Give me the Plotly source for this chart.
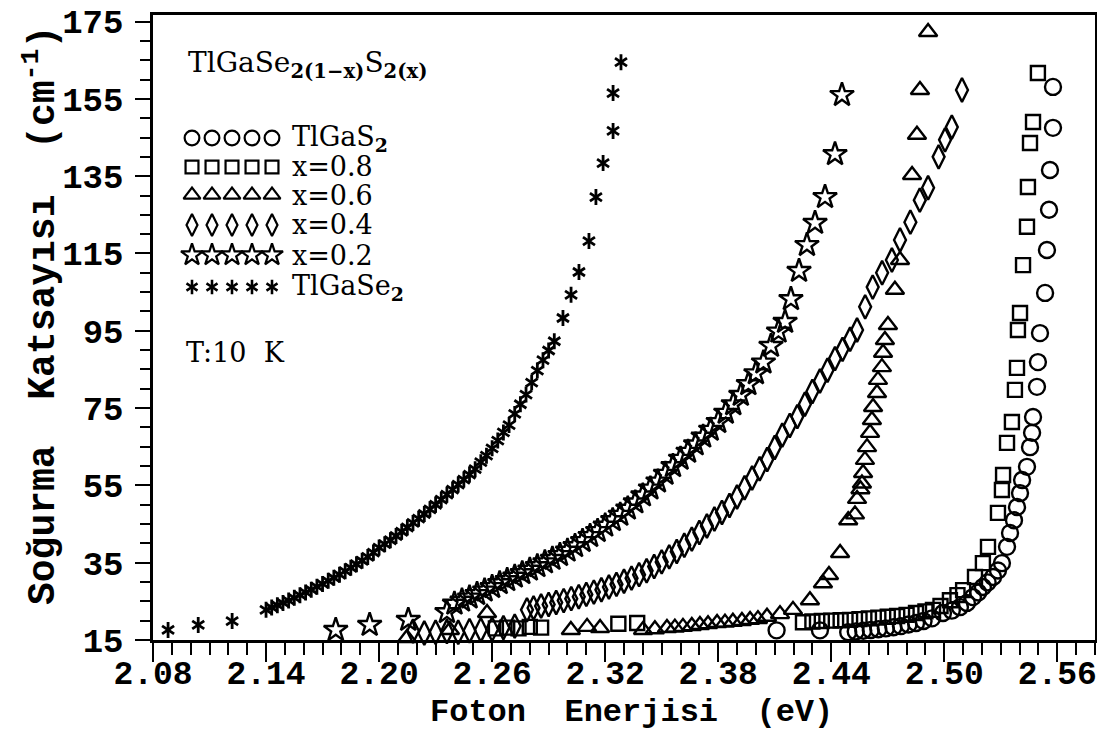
import plotly.graph_objects as go

# ---------------- data ----------------
# TlGaSe2  (asterisks)
se_x = [2.088, 2.104, 2.122,
        2.140, 2.143, 2.146, 2.149, 2.152, 2.155, 2.158, 2.161, 2.164, 2.167, 2.170,
        2.173, 2.176, 2.179, 2.182, 2.185, 2.188, 2.191, 2.194, 2.197, 2.200, 2.203,
        2.206, 2.209, 2.212, 2.215, 2.218, 2.221, 2.224, 2.227, 2.230, 2.233, 2.236,
        2.239, 2.242, 2.245, 2.248, 2.251, 2.254, 2.257, 2.260, 2.263, 2.266, 2.269,
        2.272, 2.275, 2.278, 2.281, 2.284, 2.287, 2.290, 2.293, 2.2976, 2.3019,
        2.3061, 2.3114, 2.3151, 2.3189, 2.3242, 2.3242, 2.3284]
se_y = [17.6, 18.9, 19.9,
        22.8, 23.4, 24.0, 24.6, 25.2, 25.9, 26.6, 27.3, 28.0, 28.8, 29.5,
        30.3, 31.1, 31.9, 32.8, 33.7, 34.6, 35.5, 36.5, 37.6, 38.9, 39.8,
        40.8, 41.9, 43.0, 44.1, 45.3, 46.4, 47.6, 48.8, 50.0, 51.3, 52.6,
        53.9, 55.2, 56.5, 57.8, 59.2, 61.0, 62.7, 64.6, 66.6, 68.7, 70.6,
        73.5, 76.0, 78.5, 81.6, 84.7, 87.4, 89.9, 92.3, 98.3, 104.3,
        110.2, 118.2, 129.6, 138.4, 146.7, 156.5, 164.5]

# x = 0.2  (stars)
x02_x = [2.177, 2.195, 2.2155,
         2.236, 2.240, 2.244, 2.248, 2.252, 2.256, 2.260, 2.264, 2.268, 2.272, 2.276,
         2.280, 2.284, 2.288, 2.292, 2.296, 2.300, 2.304, 2.308, 2.312, 2.316, 2.320,
         2.324, 2.328, 2.332, 2.336, 2.340, 2.344, 2.348, 2.352, 2.356, 2.360, 2.364,
         2.368, 2.372, 2.376, 2.380, 2.384, 2.388, 2.392, 2.396, 2.400, 2.404, 2.408,
         2.412, 2.4155, 2.4186, 2.4229, 2.4271, 2.4314, 2.4367, 2.442, 2.4457]
x02_y = [17.6, 18.9, 20.2,
         22.2, 24.4, 25.2, 26.0, 26.9, 27.8, 28.7, 29.7, 30.5, 31.4, 32.3,
         33.2, 34.1, 35.1, 36.0, 37.0, 38.1, 39.3, 40.6, 41.9, 43.2, 44.6,
         46.0, 47.4, 49.0, 50.6, 52.4, 54.2, 56.0, 58.0, 60.0, 61.9, 63.7,
         65.6, 67.6, 69.4, 71.4, 73.8, 76.0, 78.4, 81.2, 84.0, 86.8, 91.1,
         94.8, 97.3, 103.2, 110.5, 117.2, 122.9, 129.6, 140.7, 156.0]

# x = 0.4  (diamonds)
x04_x = [2.218, 2.224, 2.230, 2.236, 2.242, 2.248, 2.254, 2.260, 2.266, 2.272,
         2.2785, 2.282, 2.286, 2.290, 2.294, 2.298, 2.302, 2.306, 2.310, 2.314,
         2.318, 2.322, 2.326, 2.330, 2.334, 2.338, 2.342, 2.346, 2.350, 2.354,
         2.358, 2.362, 2.366, 2.370, 2.374, 2.378, 2.382, 2.386, 2.390, 2.394,
         2.398, 2.402, 2.406, 2.410, 2.414, 2.418, 2.422, 2.426, 2.430, 2.434,
         2.438, 2.442, 2.446, 2.450, 2.4537, 2.458, 2.462, 2.467, 2.4722, 2.4765,
         2.482, 2.487, 2.4914, 2.497, 2.5004, 2.504, 2.5094]
x04_y = [17.3, 16.8, 17.0, 17.2, 17.0, 17.4, 17.6, 17.8, 18.2, 18.6,
         22.8, 23.3, 23.8, 24.2, 24.7, 25.2, 25.7, 26.2, 26.8, 27.4,
         28.0, 28.7, 29.4, 30.2, 31.0, 31.9, 32.9, 34.0, 35.2, 36.5,
         37.9, 39.5, 41.1, 42.8, 44.5, 46.3, 48.0, 49.8, 52.0, 54.4,
         56.9, 59.3, 61.7, 64.8, 68.0, 70.5, 72.8, 76.0, 79.3, 82.0,
         84.8, 87.8, 90.2, 92.8, 95.2, 101.2, 106.3, 110.0, 113.3, 118.5,
         123.1, 128.8, 132.0, 140.0, 144.4, 147.7, 157.3]

# x = 0.6  (triangles)
x06_x = [2.2148, 2.2376, 2.2573, 2.3018, 2.3104, 2.3173,
         2.3401, 2.3464, 2.3528, 2.357, 2.3613, 2.366, 2.3703, 2.3746, 2.3794,
         2.3836, 2.3878, 2.3926, 2.3969, 2.4011, 2.4059, 2.4128, 2.4197, 2.4287,
         2.4356, 2.4388, 2.4447, 2.4490, 2.4526, 2.4537, 2.4555, 2.4563, 2.4569,
         2.4579, 2.4590, 2.4606, 2.4616, 2.4622, 2.4643, 2.4648, 2.4669, 2.4675,
         2.4685, 2.4701, 2.4738, 2.4765, 2.4829, 2.4855, 2.4871, 2.4914]
x06_y = [15.5, 17.6, 22.0, 17.6, 18.4, 18.1,
         17.6, 17.8, 18.1, 18.2, 18.4, 18.6, 18.9, 19.1, 19.4,
         19.5, 19.7, 19.9, 20.2, 20.4, 21.0, 21.7, 22.8, 25.3,
         29.7, 31.8, 37.5, 46.0, 47.5, 51.5, 54.0, 55.5, 58.2,
         61.6, 64.9, 68.6, 71.9, 75.3, 78.9, 82.3, 85.6, 89.3,
         92.6, 96.5, 105.6, 113.3, 135.3, 145.7, 157.3, 172.3]

# x = 0.8  (squares)
x08_x = [2.262, 2.268, 2.274, 2.280, 2.286, 2.327, 2.337,
         2.425, 2.430, 2.435, 2.440, 2.445, 2.450, 2.455, 2.460, 2.465, 2.470,
         2.475, 2.480, 2.485, 2.490, 2.494, 2.498, 2.503, 2.507, 2.510, 2.5163,
         2.5205, 2.5232, 2.5285, 2.5306, 2.5312, 2.5333, 2.5359, 2.5375, 2.5386,
         2.5391, 2.5402, 2.5418, 2.5439, 2.5444, 2.5455, 2.5471, 2.5497]
x08_y = [18.0, 18.2, 18.0, 18.4, 18.2, 19.2, 19.4,
         19.6, 19.8, 19.9, 20.0, 20.1, 20.2, 20.4, 20.6, 20.8, 21.0,
         21.2, 21.5, 22.0, 22.4, 22.8, 23.8, 25.3, 26.6, 27.9, 31.3,
         34.9, 39.1, 47.9, 53.8, 57.7, 66.0, 71.4, 79.7, 85.4,
         95.2, 99.6, 112.0, 121.9, 132.2, 143.6, 149.0, 161.7]

# TlGaS2  (circles)
s_x = [2.411, 2.434, 2.449, 2.453, 2.457, 2.461, 2.465, 2.469, 2.473, 2.477,
       2.481, 2.485, 2.489, 2.4935, 2.4993, 2.504, 2.5083, 2.512, 2.5152, 2.518,
       2.5205, 2.523, 2.5259, 2.5285, 2.5306, 2.5333, 2.5349, 2.537, 2.5386,
       2.5402, 2.5413, 2.5439, 2.5455, 2.5466, 2.5471, 2.5492, 2.5497, 2.5508,
       2.5535, 2.5545, 2.5556, 2.5561, 2.5577, 2.5577]
s_y = [17.5, 17.5, 17.0, 17.2, 17.4, 17.6, 17.8, 18.0, 18.3, 18.6,
       19.0, 19.4, 19.9, 20.6, 22.0, 22.6, 23.5, 24.6, 26.1, 27.3,
       28.7, 29.9, 31.3, 33.0, 34.9, 39.1, 42.7, 46.0, 49.4,
       53.0, 56.4, 59.8, 64.9, 68.6, 72.7, 80.5, 86.9, 94.4,
       104.8, 115.9, 126.3, 136.6, 147.5, 158.1]

legend_labels = ["TlGaS<sub><b>2</b></sub>", "x=0.8", "x=0.6", "x=0.4", "x=0.2",
                 "TlGaSe<sub><b>2</b></sub>"]
title_text = "TlGaSe<sub><b>2(1\u2212x)</b></sub>S<sub><b>2(x)</b></sub>"
temp_text = "T:10  K"
x_title = "Foton  Enerjisi  (eV)"
y_title = "So\u011furma  Katsay\u0131s\u0131  (cm<sup>-1</sup>)"

# ---------------- styling ----------------
BLACK = "black"
MONO = "Liberation Mono"
SERIF = "DejaVu Serif"

series = [
    (s_x, s_y, ["circle-open"], 16, 2.4),
    (x08_x, x08_y, ["square-open"], 14, 2.4),
    (x06_x, x06_y, ["triangle-up-open"], 16, 2.4),
    (x04_x, x04_y, ["diamond-tall-open"], 17, 2.4),
    (x02_x, x02_y, ["star-open"], 18, 2.4),
    (se_x, se_y, ["y-up-open", "y-down-open"], 10, 2.8),
]

fig = go.Figure()
for xs, ys, syms, size, lw in series:
    for sym in syms:
        fig.add_trace(go.Scatter(
            x=xs, y=ys, mode="markers", showlegend=False, hoverinfo="skip",
            marker=dict(symbol=sym, size=size, color=BLACK,
                        line=dict(color=BLACK, width=lw)),
            cliponaxis=False))

# plot-area geometry in pixels (for placing legend items)
L, R, T, B = 153, 1095, 15, 640
W, H = R - L, B - T


def px(xp):
    return (xp - L) / W


def py(yp):
    return (B - yp) / H


row_y = [138, 167, 195, 225, 255, 287]
mk_x = [192, 212, 232, 252, 272]
for (xs, ys, syms, size, lw), ry in zip(series, row_y):
    for sym in syms:
        fig.add_trace(go.Scatter(
            x=[px(v) for v in mk_x], y=[py(ry)] * len(mk_x),
            xaxis="x2", yaxis="y2", mode="markers", showlegend=False,
            hoverinfo="skip",
            marker=dict(symbol=sym, size=size * 0.92, color=BLACK,
                        line=dict(color=BLACK, width=lw * 0.92))))

annotations = []
for lab, ry in zip(legend_labels, row_y):
    annotations.append(dict(x=px(290), y=py(ry), xref="paper", yref="paper",
                            text=lab, showarrow=False, xanchor="left",
                            yanchor="middle",
                            font=dict(family=SERIF, size=27, color=BLACK)))
annotations.append(dict(x=px(186), y=py(65), xref="paper", yref="paper",
                        text=title_text, showarrow=False, xanchor="left",
                        yanchor="middle",
                        font=dict(family=SERIF, size=28, color=BLACK)))
annotations.append(dict(x=px(184), y=py(353), xref="paper", yref="paper",
                        text=temp_text, showarrow=False, xanchor="left",
                        yanchor="middle",
                        font=dict(family=SERIF, size=27, color=BLACK)))
annotations.append(dict(x=px(631), y=py(712), xref="paper", yref="paper",
                        text=x_title, showarrow=False, xanchor="center",
                        yanchor="middle",
                        font=dict(family=MONO, size=32, color=BLACK,
                                  weight="bold")))
annotations.append(dict(x=px(40), y=py(316), xref="paper", yref="paper",
                        text=y_title, showarrow=False, xanchor="center",
                        yanchor="middle", textangle=-90,
                        font=dict(family=MONO, size=38, color=BLACK,
                                  weight="bold")))

fig.update_layout(
    width=1097, height=737,
    margin=dict(l=L, r=1097 - R, t=T, b=737 - B, autoexpand=False),
    paper_bgcolor="white", plot_bgcolor="white",
    showlegend=False,
    annotations=annotations,
    xaxis=dict(range=[2.08, 2.58], tickmode="linear", tick0=2.08, dtick=0.06,
               tickformat=".2f", ticks="outside", ticklen=19, tickwidth=2,
               tickcolor=BLACK, showline=True, linewidth=2.5, linecolor=BLACK,
               mirror=True, showgrid=False, zeroline=False,
               ticklabelstandoff=-17, ticklabeloverflow="allow",
               tickfont=dict(family=MONO, size=33, color=BLACK, weight="bold"),
               minor=dict(tick0=2.08, dtick=0.01, ticks="outside", ticklen=12,
                          tickwidth=2, tickcolor=BLACK, showgrid=False)),
    yaxis=dict(range=[15, 176.7], tickmode="linear", tick0=15, dtick=20,
               ticks="outside", ticklen=15, tickwidth=2, tickcolor=BLACK,
               showline=True, linewidth=2.5, linecolor=BLACK, mirror=True,
               showgrid=False, zeroline=False, ticklabelstandoff=5,
               tickfont=dict(family=MONO, size=34, color=BLACK, weight="bold"),
               minor=dict(tick0=15, dtick=5, ticks="outside", ticklen=10,
                          tickwidth=2, tickcolor=BLACK, showgrid=False)),
    xaxis2=dict(overlaying="x", anchor="y2", range=[0, 1], visible=False),
    yaxis2=dict(overlaying="y", anchor="x2", range=[0, 1], visible=False),
)

fig.write_html("out.html", config={"displayModeBar": False},
               post_script="document.body.style.margin='0';"
                           "document.body.style.overflow='hidden';")
